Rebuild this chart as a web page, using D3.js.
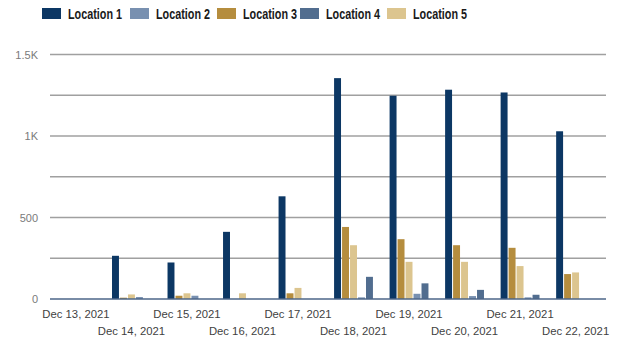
<!DOCTYPE html>
<html><head><meta charset="utf-8">
<script src="https://cdn.jsdelivr.net/npm/d3@7"></script>
<style>body{margin:0;background:#fff}svg{display:block}</style>
</head><body><svg id="c" width="623" height="341"></svg>
<script>
const dates = ["Dec 13, 2021","Dec 14, 2021","Dec 15, 2021","Dec 16, 2021","Dec 17, 2021","Dec 18, 2021","Dec 19, 2021","Dec 20, 2021","Dec 21, 2021","Dec 22, 2021"];
const seriesNames = ["Location 1","Location 2","Location 3","Location 4","Location 5"];
const seriesColors = ["#0c3764","#7890b0","#b58d3e","#516d8f","#dcc58f"];
const loc1 = [0, 265, 224, 412, 630, 1355, 1247, 1284, 1267, 1029];
const loc2 = [0, 12, 20, 0, 0, 10, 32, 18, 10, 0];
const loc3 = [0, 8, 20, 0, 35, 442, 367, 330, 314, 153];
const loc4 = [0, 0, 0, 0, 0, 136, 96, 56, 26, 0];
const loc5 = [0, 28, 35, 35, 68, 330, 228, 228, 202, 163];
const barOrder = ["Location 1","Location 3","Location 5","Location 2","Location 4"];
const gridTicks = [0, 250, 500, 750, 1000, 1250, 1500];
const labelTicks = [0, 500, 1000, 1500];

const values = {"Location 1":loc1,"Location 2":loc2,"Location 3":loc3,"Location 4":loc4,"Location 5":loc5};
const color = d3.scaleOrdinal().domain(seriesNames).range(seriesColors);
const svg = d3.select("#c");

const y = d3.scaleLinear().domain([0,1500]).range([299,54.5]);
const x0 = d3.scaleBand().domain(dates).range([50,601.5]).paddingInner(0.3).paddingOuter(0.117);
const x1 = d3.scaleBand().domain(barOrder).range([0,x0.bandwidth()]).paddingInner(0.13);

// gridlines
svg.append("g").selectAll("line").data(gridTicks.filter(t=>t>0)).join("line")
  .attr("x1",50).attr("x2",606).attr("y1",d=>y(d)).attr("y2",d=>y(d))
  .attr("stroke","#a0a0a0").attr("stroke-width",1.3);

// y labels
const yAxis = d3.axisLeft(y).tickValues(labelTicks).tickSize(0).tickPadding(0)
  .tickFormat(d=> d>=1000 ? d3.format("~g")(d/1000)+"K" : d);
const ya = svg.append("g").attr("transform","translate(38,0)").call(yAxis);
ya.select(".domain").remove();
ya.selectAll("text").attr("font-family","Liberation Sans, Arial, sans-serif").attr("font-size",11).attr("fill","#7a7a7a");

// bars
const g = svg.append("g");
dates.forEach((d,i)=>{
  g.append("g").attr("transform",`translate(${x0(d)},0)`)
   .selectAll("rect").data(barOrder.map(s=>({s,v:values[s][i]}))).join("rect")
   .attr("x",e=>x1(e.s)).attr("width",x1.bandwidth())
   .attr("y",e=>y(e.v)).attr("height",e=>y(0)-y(e.v))
   .attr("fill",e=>color(e.s));
});

// baseline
svg.append("line").attr("x1",50).attr("x2",606).attr("y1",y(0)).attr("y2",y(0))
  .attr("stroke","#4d6688").attr("stroke-width",1.5);

// x labels
const xAxis = d3.axisBottom(x0).tickSize(0).tickPadding(0);
const xa = svg.append("g").call(xAxis);
xa.select(".domain").remove();
xa.selectAll(".tick").attr("transform",(d,i)=>`translate(${x0(d)+x0.bandwidth()/2},${i%2===0?318:335})`);
xa.selectAll("text").attr("y",0).attr("dy",0)
  .attr("font-family","Liberation Sans, Arial, sans-serif").attr("font-size",11.3).attr("fill","#3f3f3f");

// legend
const legendX = [42,130,217,300,387];
const leg = svg.append("g");
seriesNames.forEach((s,i)=>{
  leg.append("rect").attr("x",legendX[i]).attr("y",8).attr("width",19).attr("height",11).attr("fill",color(s));
  leg.append("text").attr("x",legendX[i]+26).attr("y",19).text(s)
    .attr("font-family","Liberation Sans Narrow, Arial Narrow, Liberation Sans, sans-serif")
    .attr("font-weight","bold").attr("font-size",15).attr("fill","#1a1a1a")
    .attr("textLength",54).attr("lengthAdjust","spacingAndGlyphs");
});
</script></body></html>
